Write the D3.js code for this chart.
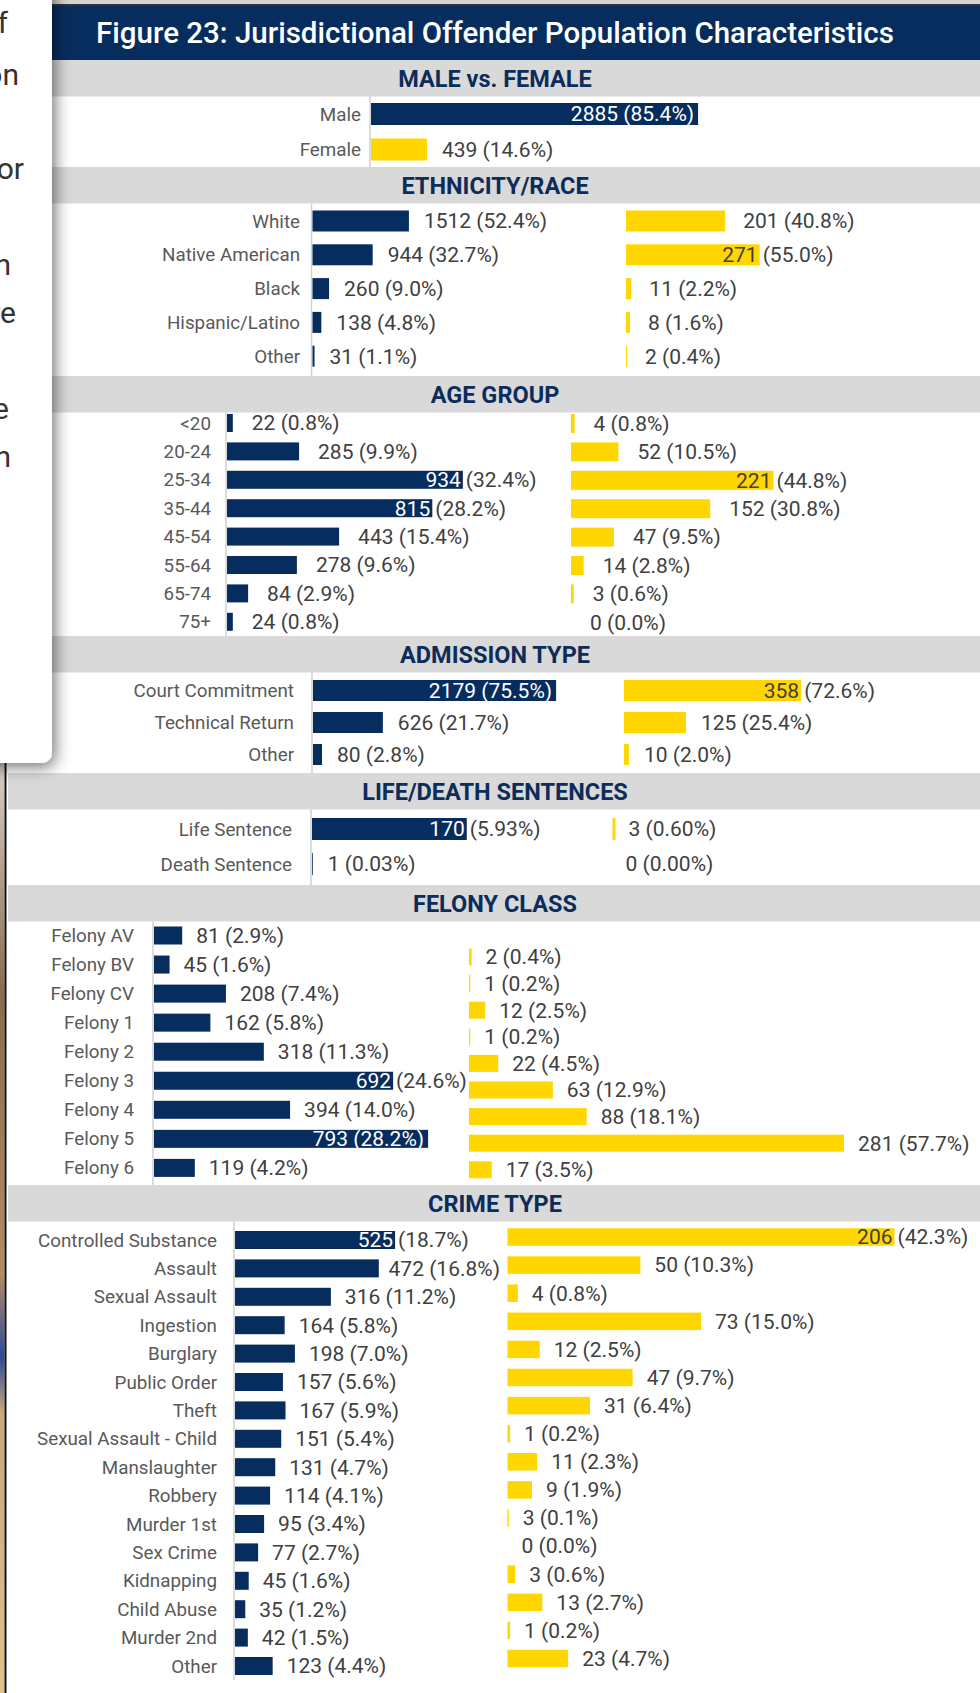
<!DOCTYPE html>
<html>
<head>
<meta charset="utf-8">
<script src="https://d3js.org/d3.v7.min.js"></script>
<style>
  body { margin: 0; background: #fff; overflow: hidden; }
  svg text { font-family: Roboto, "Noto Sans", sans-serif; }
</style>
</head>
<body>
<svg id="chart" width="980" height="1693"></svg>
<script>
// ---- data ----
const sexCats = ["Male", "Female"];
const sexCounts = [2885, 439];
const sexPct = [85.4, 14.6];

const raceCats = ["White", "Native American", "Black", "Hispanic/Latino", "Other"];
const raceMale = [1512, 944, 260, 138, 31];
const raceMalePct = [52.4, 32.7, 9.0, 4.8, 1.1];
const raceFemale = [201, 271, 11, 8, 2];
const raceFemalePct = [40.8, 55.0, 2.2, 1.6, 0.4];

const ageCats = ["<20", "20-24", "25-34", "35-44", "45-54", "55-64", "65-74", "75+"];
const ageMale = [22, 285, 934, 815, 443, 278, 84, 24];
const ageMalePct = [0.8, 9.9, 32.4, 28.2, 15.4, 9.6, 2.9, 0.8];
const ageFemale = [4, 52, 221, 152, 47, 14, 3, 0];
const ageFemalePct = [0.8, 10.5, 44.8, 30.8, 9.5, 2.8, 0.6, 0.0];

const admitCats = ["Court Commitment", "Technical Return", "Other"];
const admitMale = [2179, 626, 80];
const admitMalePct = [75.5, 21.7, 2.8];
const admitFemale = [358, 125, 10];
const admitFemalePct = [72.6, 25.4, 2.0];

const sentCats = ["Life Sentence", "Death Sentence"];
const sentMale = [170, 1];
const sentMalePct = [5.93, 0.03];
const sentFemale = [3, 0];
const sentFemalePct = [0.60, 0.00];

const felonyCats = ["Felony AV", "Felony BV", "Felony CV", "Felony 1", "Felony 2",
  "Felony 3", "Felony 4", "Felony 5", "Felony 6"];
const felonyMale = [81, 45, 208, 162, 318, 692, 394, 793, 119];
const felonyMalePct = [2.9, 1.6, 7.4, 5.8, 11.3, 24.6, 14.0, 28.2, 4.2];
const felonyFemale = [2, 1, 12, 1, 22, 63, 88, 281, 17];
const felonyFemalePct = [0.4, 0.2, 2.5, 0.2, 4.5, 12.9, 18.1, 57.7, 3.5];

const crimeCats = ["Controlled Substance", "Assault", "Sexual Assault", "Ingestion",
  "Burglary", "Public Order", "Theft", "Sexual Assault - Child", "Manslaughter",
  "Robbery", "Murder 1st", "Sex Crime", "Kidnapping", "Child Abuse", "Murder 2nd", "Other"];
const crimeMale = [525, 472, 316, 164, 198, 157, 167, 151, 131, 114, 95, 77, 45, 35, 42, 123];
const crimeMalePct = [18.7, 16.8, 11.2, 5.8, 7.0, 5.6, 5.9, 5.4, 4.7, 4.1, 3.4, 2.7, 1.6, 1.2, 1.5, 4.4];
const crimeFemale = [206, 50, 4, 73, 12, 47, 31, 1, 11, 9, 3, 0, 3, 13, 1, 23];
const crimeFemalePct = [42.3, 10.3, 0.8, 15.0, 2.5, 9.7, 6.4, 0.2, 2.3, 1.9, 0.1, 0.0, 0.6, 2.7, 0.2, 4.7];

const titleText = "Figure 23: Jurisdictional Offender Population Characteristics";
const cardWords = ["f", "on", "or", "n", "re", "e", "n"];

// ---- colours ----
const navy = "#072d5e";
const yellow = "#ffd600";
const bandGrey = "#d9d9d9";
const catColor = "#595959";
const valColor = "#404040";

// ---- layout of each block ----
const sections = [
  { title: "MALE vs. FEMALE", bandY: 60, labelRight: 361, cats: sexCats,
    panels: [{ counts: sexCounts, pct: sexPct, color: [navy, yellow], axis: 370,
      pxPer: 3.83, y0: 114, pitch: 35.5, barH: 22, limit: 700, gap: 15 }] },
  { title: "ETHNICITY/RACE", bandY: 167, labelRight: 300, cats: raceCats,
    panels: [
      { counts: raceMale, pct: raceMalePct, color: navy, axis: 311.5, pxPer: 1.84,
        y0: 221, pitch: 33.8, barH: 21, limit: 600, gap: 15 },
      { counts: raceFemale, pct: raceFemalePct, color: yellow, start: 626, pxPer: 2.43,
        y0: 221, pitch: 33.8, barH: 21, limit: 865, gap: 18 }] },
  { title: "AGE GROUP", bandY: 376, labelRight: 211, cats: ageCats,
    panels: [
      { counts: ageMale, pct: ageMalePct, color: navy, axis: 226, pxPer: 7.28,
        y0: 423, pitch: 28.4, barH: 18, limit: 540, gap: 19 },
      { counts: ageFemale, pct: ageFemalePct, color: yellow, start: 571, pxPer: 4.52,
        y0: 423.5, pitch: 28.4, barH: 19, limit: 870, gap: 19 }] },
  { title: "ADMISSION TYPE", bandY: 636, labelRight: 294, cats: admitCats,
    panels: [
      { counts: admitMale, pct: admitMalePct, color: navy, axis: 312, pxPer: 3.22,
        y0: 690.5, pitch: 32, barH: 21, limit: 600, gap: 15 },
      { counts: admitFemale, pct: admitFemalePct, color: yellow, start: 624, pxPer: 2.44,
        y0: 690.5, pitch: 32, barH: 21, limit: 890, gap: 15 }] },
  { title: "LIFE/DEATH SENTENCES", bandY: 773, labelRight: 292, cats: sentCats, decimals: 2,
    panels: [
      { counts: sentMale, pct: sentMalePct, color: navy, axis: 311, pxPer: 26.1, dmax: 10,
        y0: 829, pitch: 35, barH: 22, limit: 565, gap: 15 },
      { counts: sentFemale, pct: sentFemalePct, color: yellow, start: 612.5, pxPer: 5, dmax: 10,
        y0: 829, pitch: 35, barH: 22, limit: 900, gap: 13 }] },
  { title: "FELONY CLASS", bandY: 885, labelRight: 134, cats: felonyCats,
    panels: [
      { counts: felonyMale, pct: felonyMalePct, color: navy, axis: 153, pxPer: 9.72,
        y0: 935.5, pitch: 29.05, barH: 18, limit: 472, gap: 14 },
      { counts: felonyFemale, pct: felonyFemalePct, color: yellow, start: 469, pxPer: 6.5,
        y0: 957, pitch: 26.6, barH: 17, limit: 980, gap: 14 }] },
  { title: "CRIME TYPE", bandY: 1185, labelRight: 217, cats: crimeCats, axisEnd: 1680,
    panels: [
      { counts: crimeMale, pct: crimeMalePct, color: navy, axis: 234, pxPer: 8.56,
        y0: 1240, pitch: 28.4, barH: 18, limit: 500, gap: 14 },
      { counts: crimeFemale, pct: crimeFemalePct, color: yellow, start: 507.5, pxPer: 12.9, dmax: 30,
        y0: 1237, pitch: 28.1, barH: 17.5, limit: 980, gap: 14 }] }
];
const bandH = 36.5;
const valSize = 21;

const svg = d3.select("#chart");

function draw() {
  const defs = svg.append("defs");
  const shadow = defs.append("filter").attr("id", "cardShadow")
    .attr("x", "-50%").attr("y", "-10%").attr("width", "200%").attr("height", "120%");
  shadow.append("feDropShadow").attr("dx", 3).attr("dy", 4).attr("stdDeviation", 8)
    .attr("flood-color", "#000").attr("flood-opacity", 0.55);

  const photo = defs.append("linearGradient").attr("id", "photo")
    .attr("x1", 0).attr("y1", 0).attr("x2", 0).attr("y2", 1);
  [["0%", "#d9cfc9"], ["25%", "#8b6b4b"], ["55%", "#b48c60"], ["64%", "#2c4a9a"],
   ["70%", "#c8a878"], ["100%", "#e2c08a"]].forEach(([o, c]) =>
    photo.append("stop").attr("offset", o).attr("stop-color", c));

  // top strip and title bar
  svg.append("rect").attr("x", 0).attr("y", 0).attr("width", 980).attr("height", 5).attr("fill", "#d4d4d4");
  svg.append("rect").attr("x", 0).attr("y", 4).attr("width", 980).attr("height", 2).attr("fill", "#333");
  svg.append("rect").attr("x", 8).attr("y", 6).attr("width", 972).attr("height", 54).attr("fill", navy);
  svg.append("text").attr("x", 495).attr("y", 43).attr("text-anchor", "middle")
    .attr("fill", "#fff").attr("font-size", 29.5).attr("font-weight", 500).text(titleText);

  sections.forEach((sec, si) => {
    const next = sections[si + 1];
    const bottom = next ? next.bandY : sec.axisEnd;
    svg.append("rect").attr("x", 8).attr("y", sec.bandY).attr("width", 972).attr("height", bandH)
      .attr("fill", bandGrey);
    svg.append("text").attr("x", 495).attr("y", sec.bandY + bandH / 2).attr("dy", "0.36em")
      .attr("text-anchor", "middle").attr("fill", "#0c2c5a").attr("font-size", 23.5)
      .attr("font-weight", 700).text(sec.title);

    const g = svg.append("g");
    const dec = sec.decimals || 1;

    sec.panels.forEach((p, pi) => {
      const start = p.start !== undefined ? p.start : p.axis + 1;
      const dmax = p.dmax || 100;
      const x = d3.scaleLinear().domain([0, dmax]).range([start, start + dmax * p.pxPer]).clamp(true);
      const y = d3.scaleLinear().domain([0, 1]).range([p.y0, p.y0 + p.pitch]);

      if (p.axis !== undefined) {
        g.append("line").attr("x1", p.axis).attr("x2", p.axis)
          .attr("y1", sec.bandY + bandH).attr("y2", bottom)
          .attr("stroke", "#d0d0d0").attr("stroke-width", 1.5);
      }
      if (pi === 0) {
        sec.cats.forEach((c, i) => {
          g.append("text").attr("x", sec.labelRight).attr("y", y(i)).attr("dy", "0.35em")
            .attr("text-anchor", "end").attr("fill", catColor).attr("font-size", 18.8).text(c);
        });
      }
      p.counts.forEach((v, i) => {
        const col = Array.isArray(p.color) ? p.color[i] : p.color;
        const cy = y(i);
        const x1 = x(p.pct[i]);
        g.append("rect").attr("x", start).attr("y", cy - p.barH / 2)
          .attr("width", Math.max(0, x1 - start)).attr("height", p.barH).attr("fill", col);
        const pctText = "(" + p.pct[i].toFixed(dec) + "%)";
        const inner = col === navy ? "#fff" : valColor;
        // outside label if it fits, else pushed left, else number inside / percent outside
        const t = g.append("text").attr("y", cy).attr("dy", "0.35em").attr("font-size", valSize)
          .attr("fill", valColor).text(v + " " + pctText);
        const w = t.node().getComputedTextLength();
        if (x1 + p.gap + w <= p.limit) {
          t.attr("x", x1 + p.gap);
        } else if (p.limit - w >= x1 + 4) {
          t.attr("x", p.limit - w);
        } else {
          t.remove();
          const pt = g.append("text").attr("y", cy).attr("dy", "0.35em").attr("font-size", valSize)
            .attr("fill", valColor).text(pctText);
          const pw = pt.node().getComputedTextLength();
          if (x1 + 3 + pw <= p.limit) {
            pt.attr("x", x1 + 3);
            g.append("text").attr("x", x1 - 2).attr("y", cy).attr("dy", "0.35em")
              .attr("text-anchor", "end").attr("font-size", valSize).attr("fill", inner).text(v);
          } else {
            pt.remove();
            g.append("text").attr("x", x1 - 4).attr("y", cy).attr("dy", "0.35em")
              .attr("text-anchor", "end").attr("font-size", valSize).attr("fill", inner)
              .text(v + " " + pctText);
          }
        }
      });
    });
  });

  // left edge: photo strip, frame line and the overlapping text card
  svg.append("rect").attr("x", 0).attr("y", 760).attr("width", 4.5).attr("height", 933).attr("fill", "url(#photo)");
  svg.append("rect").attr("x", 4.5).attr("y", 760).attr("width", 2).attr("height", 933).attr("fill", "#111");
  svg.append("rect").attr("x", -20).attr("y", -20).attr("width", 72).attr("height", 783)
    .attr("rx", 10).attr("fill", "#fff").attr("filter", "url(#cardShadow)");
  const cardBase = [33, 85, 179, 275, 323, 419, 467];
  const cardRight = [8, 19, 24, 11, 16, 9, 11];
  cardWords.forEach((wd, i) => {
    svg.append("text").attr("x", cardRight[i]).attr("y", cardBase[i]).attr("text-anchor", "end")
      .attr("font-family", "'Open Sans', sans-serif").attr("font-size", 30).attr("fill", "#333").text(wd);
  });
}

if (document.fonts && document.fonts.ready) {
  document.fonts.ready.then(draw);
} else {
  draw();
}
</script>
</body>
</html>
